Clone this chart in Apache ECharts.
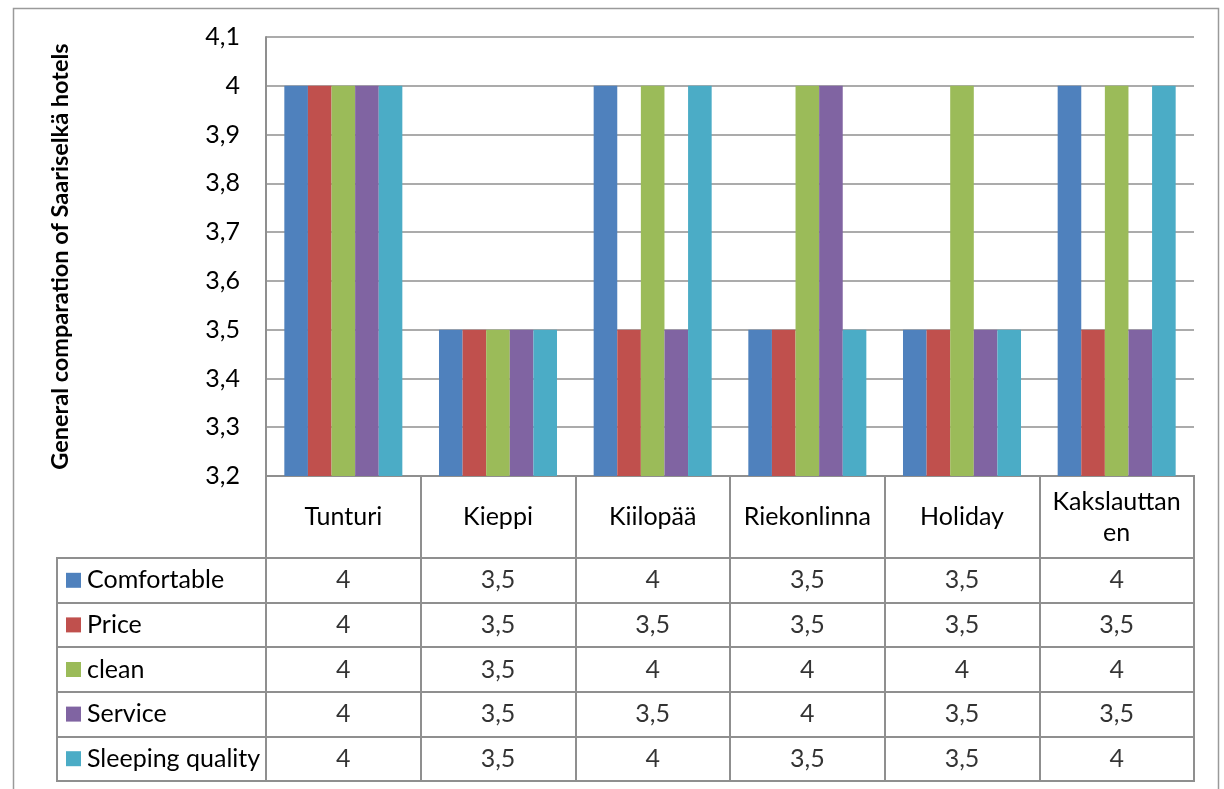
<!DOCTYPE html>
<html>
<head>
<meta charset="utf-8">
<script src="https://cdn.jsdelivr.net/npm/echarts@6/dist/echarts.min.js"></script>
<style>
html,body{margin:0;padding:0;background:#fff;}
#chart{width:1224px;height:789px;}
</style>
</head>
<body>
<div id="chart"></div>
<script>
// ---- data ----
const categories = ['Tunturi', 'Kieppi', 'Kiilopää', 'Riekonlinna', 'Holiday', 'Kakslauttanen'];
const categoryLabels = ['Tunturi', 'Kieppi', 'Kiilopää', 'Riekonlinna', 'Holiday', 'Kakslauttan\nen'];
const seriesNames = ['Comfortable', 'Price', 'clean', 'Service', 'Sleeping quality'];
const comfortable = [4, 3.5, 4, 3.5, 3.5, 4];
const price = [4, 3.5, 3.5, 3.5, 3.5, 3.5];
const clean = [4, 3.5, 4, 4, 4, 4];
const service = [4, 3.5, 3.5, 4, 3.5, 3.5];
const sleepingQuality = [4, 3.5, 4, 3.5, 3.5, 4];
const yMin = 3.2, yMax = 4.1, yInterval = 0.1;
const yTitle = 'General comparation of Saariselkä hotels';

const seriesValues = [comfortable, price, clean, service, sleepingQuality];
const colors = ['#4F81BD', '#C0504D', '#9BBB59', '#8064A2', '#4BACC6'];
const lineColor = '#8f8f8f';
const FONT = 'Lato, "Liberation Sans", sans-serif';
const FS = 25;
const fmt = v => String(+Number(v).toFixed(1)).replace('.', ',');

const tableData = [];
seriesNames.forEach((n, si) => {
  categories.forEach((c, ci) => tableData.push([c, n, seriesValues[si][ci]]));
});

const rich = { t: { fontSize: FS, fontFamily: FONT, color: '#000', padding: [0, 0, 0, 6] } };
colors.forEach((c, i) => { rich['s' + i] = { backgroundColor: c, width: 15, height: 15 }; });

const chart = echarts.init(document.getElementById('chart'));
const gridL = 266, gridW = 928;
chart.setOption({
  animation: false,
  textStyle: { fontFamily: FONT },
  graphic: [{
    type: 'rect', left: 11, top: 6, z: -1,
    shape: { width: 1205, height: 820 },
    style: { fill: 'none', stroke: '#9a9a9a', lineWidth: 1.5 }
  }],
  grid: [
    { left: gridL, top: 37, width: gridW, height: 439 },
    { left: gridL, top: 476, width: gridW, height: 82, show: true, borderColor: lineColor, borderWidth: 2 },
    { left: gridL, top: 558, width: gridW, height: 223, show: true, borderColor: lineColor, borderWidth: 2 },
    { left: 57, top: 558, width: 209, height: 223, show: true, borderColor: lineColor, borderWidth: 2 }
  ],
  xAxis: [
    {
      gridIndex: 0, type: 'category', data: categories,
      axisTick: { show: false },
      axisLine: { lineStyle: { color: lineColor, width: 2 } },
      axisLabel: {
        interval: 0, margin: 41, verticalAlign: 'middle', lineHeight: 31,
        fontSize: FS, fontFamily: FONT, color: '#000',
        formatter: (v, i) => categoryLabels[i]
      }
    },
    {
      gridIndex: 1, type: 'category', data: categories,
      axisTick: { show: false }, axisLine: { show: false }, axisLabel: { show: false },
      splitLine: { show: true, lineStyle: { color: lineColor, width: 2 } }
    },
    {
      gridIndex: 2, type: 'category', data: categories,
      axisTick: { show: false }, axisLine: { show: false }, axisLabel: { show: false },
      splitLine: { show: true, lineStyle: { color: lineColor, width: 2 } }
    },
    { gridIndex: 3, type: 'value', show: false }
  ],
  yAxis: [
    {
      gridIndex: 0, type: 'value', min: yMin, max: yMax, interval: yInterval,
      name: yTitle, nameLocation: 'middle', nameRotate: 90, nameGap: 194,
      nameTextStyle: { fontSize: 23.5, fontWeight: 'bold', fontFamily: FONT, color: '#000' },
      axisLine: { show: true, lineStyle: { color: lineColor, width: 2 } },
      axisTick: { show: false },
      axisLabel: { margin: 26, fontSize: FS, fontFamily: FONT, color: '#000', formatter: fmt },
      splitLine: { lineStyle: { color: lineColor, width: 1.5 } }
    },
    { gridIndex: 1, type: 'value', show: false },
    {
      gridIndex: 2, type: 'category', data: seriesNames, inverse: true,
      axisTick: { show: false }, axisLine: { show: false }, axisLabel: { show: false },
      splitLine: { show: true, lineStyle: { color: lineColor, width: 2 } }
    },
    {
      gridIndex: 3, type: 'category', data: seriesNames, inverse: true,
      axisTick: { show: false }, axisLine: { show: false },
      axisLabel: {
        inside: true, margin: 9, align: 'left',
        formatter: (v, i) => `{s${i}|}{t|${v}}`, rich: rich
      },
      splitLine: { show: true, lineStyle: { color: lineColor, width: 2 } }
    }
  ],
  series: seriesNames.map((n, i) => ({
    name: n, type: 'bar', xAxisIndex: 0, yAxisIndex: 0,
    data: seriesValues[i], barGap: '0%', barCategoryGap: '23.7%',
    itemStyle: { color: colors[i] }
  })).concat([{
    type: 'scatter', xAxisIndex: 2, yAxisIndex: 2,
    data: tableData, symbolSize: 1, itemStyle: { color: 'rgba(0,0,0,0)' },
    label: {
      show: true, position: 'inside', fontSize: FS, fontFamily: FONT, color: '#000',
      formatter: p => fmt(p.value[2])
    }
  }])
});
</script>
</body>
</html>
